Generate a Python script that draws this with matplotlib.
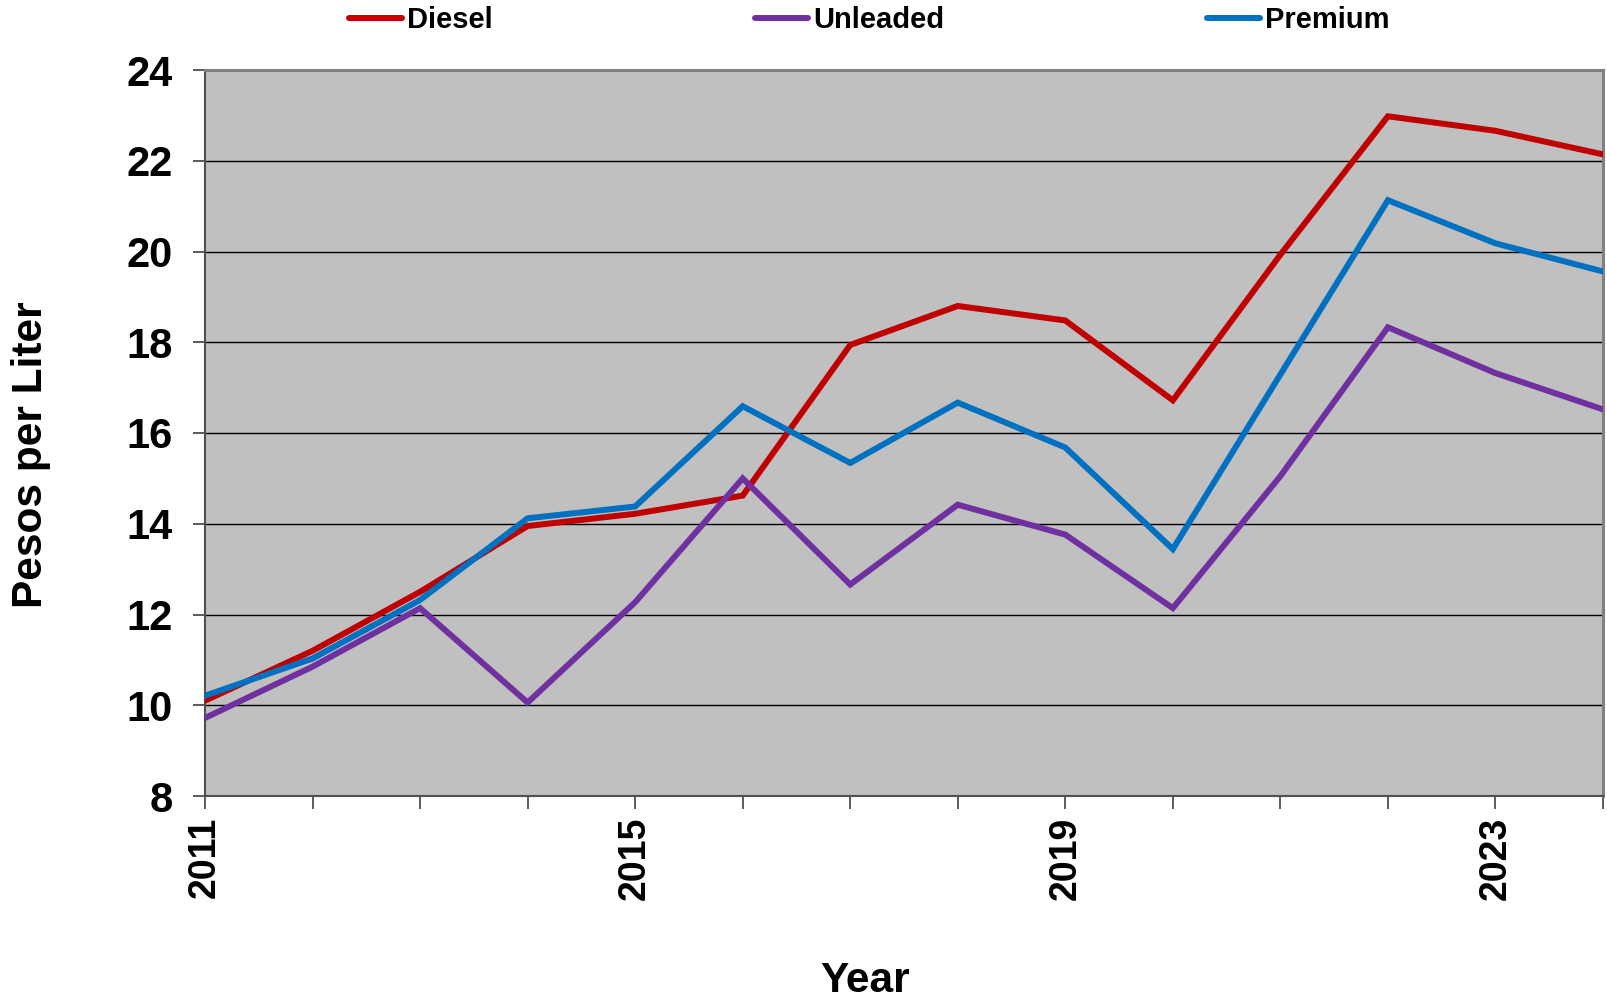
import matplotlib
matplotlib.use('Agg')
import matplotlib.pyplot as plt
from matplotlib.lines import Line2D

plt.rcParams['font.family'] = ['Liberation Sans', 'DejaVu Sans']
plt.rcParams['font.weight'] = 'bold'

years = list(range(2011, 2025))
labeled_years = [2011, 2015, 2019, 2023]

diesel = [10.1, 11.2, 12.5, 13.95, 14.22, 14.62, 17.94, 18.8, 18.48, 16.72,
          19.93, 22.98, 22.66, 22.14]
unleaded = [9.72, 10.85, 12.14, 10.06, 12.27, 15.0, 12.66, 14.42, 13.76, 12.14,
            15.05, 18.33, 17.32, 16.52]
premium = [10.21, 11.03, 12.32, 14.12, 14.38, 16.59, 15.34, 16.67, 15.68, 13.44,
           17.29, 21.13, 20.18, 19.56]

series = [('Diesel', diesel, '#C00000'),
          ('Unleaded', unleaded, '#7030A0'),
          ('Premium', premium, '#0070C0')]

fig = plt.figure(figsize=(16.08, 10.02), dpi=100)
ax = fig.add_axes([205 / 1608, 1 - 796 / 1002, (1603 - 205) / 1608, (796 - 70) / 1002])
ax.set_facecolor('#C0C0C0')

for name, vals, color in series:
    ax.plot(years, vals, color=color, linewidth=4.3, solid_joinstyle='miter',
            label=name, zorder=3)

ax.set_xlim(2011, 2024)
ax.set_ylim(8, 24)
ax.set_yticks(range(8, 25, 2))
ax.set_xticks(years)
ax.set_xticklabels([str(y) if y in labeled_years else '' for y in years],
                   rotation=90)
ax.yaxis.grid(True, color='black', linewidth=1.0)
ax.set_axisbelow(True)

for side in ('top', 'right'):
    ax.spines[side].set_color('#808080')
    ax.spines[side].set_linewidth(2.2)
for side in ('left', 'bottom'):
    ax.spines[side].set_color('#505050')
    ax.spines[side].set_linewidth(1.5)

ax.tick_params(axis='both', direction='out', length=9, width=1.2,
               color='#404040')
ax.tick_params(axis='x', labelsize=27, pad=6)
ax.tick_params(axis='y', labelsize=30, pad=14)
for lbl in ax.get_xticklabels() + ax.get_yticklabels():
    lbl.set_fontweight('bold')

fig.text(31 / 1608, 1 - 455 / 1002, 'Pesos per Liter', rotation=90,
         ha='center', va='center', fontsize=30.5, fontweight='bold')
fig.text(865 / 1608, 0.001, 'Year', ha='center', va='bottom',
         fontsize=30.5, fontweight='bold')

handles = [Line2D([], [], color=c, linewidth=4.3, solid_capstyle='round')
           for _, _, c in series]
fig.legend(handles, [n for n, _, _ in series], loc='center',
           bbox_to_anchor=(0.5405, 0.980), ncol=3, frameon=False,
           prop={'size': 21, 'weight': 'bold'}, handlelength=1.82,
           handletextpad=0.17, columnspacing=9.0)

fig.savefig('out.png', dpi=100)
